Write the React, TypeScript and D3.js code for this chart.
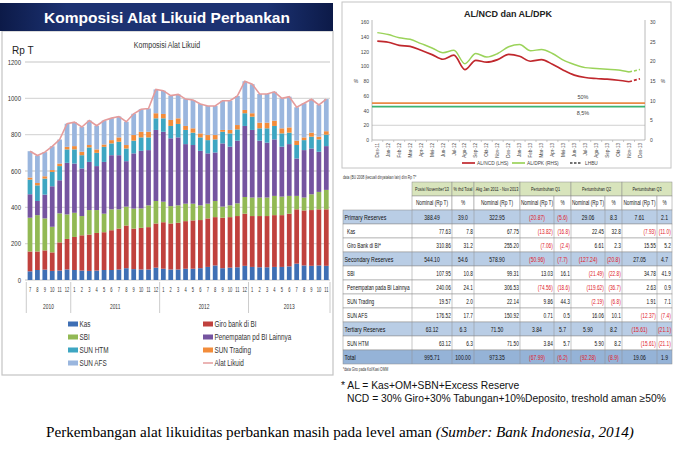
import React from 'react';
import * as d3 from 'd3';

const W = 675;
const H = 454;

const arial = "'Liberation Sans', Arial, sans-serif";
const serif = "'Liberation Serif', 'Times New Roman', serif";

// ---- left chart: Komposisi Alat Likuid (Rp T) ----
const monthLabels = [
  '7', '8', '9', '10', '11', '12',
  '1', '2', '3', '4', '5', '6', '7', '8', '9', '10', '11', '12',
  '1', '2', '3', '4', '5', '6', '7', '8', '9', '10', '11', '12',
  '1', '2', '3', '4', '5', '6', '7', '8', '9', '10', '11',
];
const years = ['2010', '2011', '2012', '2013'];
const yearCounts = [6, 12, 12, 11];

const kas = [48, 55, 57, 50, 52, 58, 55, 52, 50, 52, 55, 55, 58, 65, 60, 58, 58, 68, 62, 58, 58, 62, 62, 65, 72, 80, 65, 68, 70, 78, 72, 70, 70, 72, 72, 75, 90, 80, 78, 80, 78];
const giroBI = [109, 102, 106, 102, 155, 168, 182, 194, 200, 207, 208, 219, 225, 235, 223, 229, 233, 243, 256, 253, 257, 262, 266, 265, 267, 266, 278, 278, 282, 287, 280, 282, 282, 285, 285, 290, 299, 303, 307, 309, 311];
const sbi = [186, 200, 176, 141, 160, 135, 133, 106, 135, 126, 102, 115, 106, 104, 110, 107, 120, 124, 113, 96, 96, 96, 92, 81, 81, 89, 61, 65, 70, 92, 102, 102, 102, 106, 102, 98, 74, 71, 87, 96, 107];
const penempatan = [129, 78, 131, 223, 182, 284, 271, 262, 265, 242, 285, 298, 298, 250, 304, 317, 304, 391, 385, 373, 374, 328, 323, 300, 277, 267, 348, 323, 345, 391, 372, 313, 302, 311, 275, 285, 206, 261, 252, 221, 241];
const sunHTM = [81, 86, 88, 79, 78, 74, 78, 73, 80, 73, 83, 65, 74, 70, 70, 74, 70, 64, 74, 68, 74, 78, 68, 74, 73, 72, 64, 73, 62, 70, 73, 68, 79, 74, 73, 63, 74, 55, 65, 68, 63];
const sunTrading = [11, 13, 13, 10, 14, 14, 18, 19, 13, 19, 13, 18, 24, 19, 31, 31, 31, 28, 24, 33, 31, 22, 24, 22, 28, 24, 10, 19, 24, 18, 19, 31, 31, 29, 28, 29, 24, 15, 22, 15, 19];
const sunAFS = [145, 151, 133, 131, 132, 127, 132, 136, 135, 130, 132, 121, 115, 128, 117, 124, 128, 131, 128, 134, 132, 148, 156, 162, 160, 160, 161, 161, 160, 158, 160, 158, 158, 159, 165, 169, 184, 188, 184, 175, 177];
const leftTicks = [0, 200, 400, 600, 800, 1000, 1200];

const stackKeys = ['kas', 'giro', 'sbi', 'pen', 'htm', 'trd', 'afs'];
const stackColors = ['#3f6fb4', '#c0413d', '#92b954', '#7554a0', '#3ea6c2', '#f28c3a', '#9ab6de'];
const legendLeft = [
  { name: 'Kas', color: '#3f6fb4' },
  { name: 'SBI', color: '#92b954' },
  { name: 'SUN HTM', color: '#3ea6c2' },
  { name: 'SUN AFS', color: '#9ab6de' },
];
const legendRight = [
  { name: 'Giro bank di BI', color: '#c0413d' },
  { name: 'Penempatan pd BI Lainnya', color: '#7554a0' },
  { name: 'SUN Trading', color: '#f28c3a' },
  { name: 'Alat Likuid', color: '#e59c9c', line: true },
];

// ---- right chart: AL/NCD dan AL/DPK ----
const rightMonths = ['Des-11', 'Jan-12', 'Feb-12', 'Mar-12', 'Apr-12', 'Mei-12', 'Jun-12', 'Jul-12', 'Agu-12', 'Sep-12', 'Okt-12', 'Nov-12', 'Des-12', 'Jan-13', 'Feb-13', 'Mar-13', 'Apr-13', 'Mei-13', 'Jun-13', 'Jul-13', 'Agu-13', 'Sep-13', 'Okt-13', 'Nov-13', 'Des-13'];
const alNcd = [134, 132.5, 128.4, 127, 121.7, 115.8, 109.5, 115, 95.5, 108, 105.5, 109, 116, 113.5, 106.8, 109, 102.7, 94.6, 87.9, 84.7, 83.4, 82.5, 81, 79, 83];
const alDpk = [27.3, 26.8, 26.0, 25.6, 24.5, 23.4, 22.2, 22.8, 19.4, 22.0, 21.1, 22.0, 23.7, 24.3, 22.7, 23.0, 22.0, 20.3, 19.2, 18.4, 18.2, 18.0, 17.8, 17.3, 17.9];
const ncdThreshold = 50;
const dpkThreshold = 8.5;
const lhsTicks = [0, 20, 40, 60, 80, 100, 120, 140, 160];
const rhsTicks = [0, 5, 10, 15, 20, 25, 30];

// ---- table ----
const colEdges = [343, 412, 452, 474, 520, 554, 571, 605, 622, 657, 672];
const headTop = ["Posisi November'13", '% thd Total', 'Akg Jan 2011 - Nov 2013', 'Pertumbuhan Q1', 'Pertumbuhan Q2', 'Pertumbuhan Q3'];
const headTopSpan = [1, 1, 1, 2, 2, 2];
const headSub = ['Nominal (Rp T)', '%', 'Nominal (Rp T)', 'Nominal (Rp T)', '%', 'Nominal (Rp T)', '%', 'Nominal (Rp T)', '%'];
const rowLabels = ['Primary Reserves', 'Kas', 'Giro Bank di BI*', 'Secondary Reserves', 'SBI', 'Penempatan pada BI Lainnya', 'SUN Trading', 'SUN AFS', 'Tertiary Reserves', 'SUN HTM', 'Total'];
const rowKinds = ['group', 'item', 'item', 'group', 'item', 'item', 'item', 'item', 'group', 'item', 'total'];
const posisi = ['388.49', '77.63', '310.86', '544.10', '107.95', '240.06', '19.57', '176.52', '63.12', '63.12', '995.71'];
const pctTotal = ['39.0', '7.8', '31.2', '54.6', '10.8', '24.1', '2.0', '17.7', '6.3', '6.3', '100.00'];
const akg = ['322.95', '67.75', '255.20', '578.90', '99.31', '306.53', '22.14', '150.92', '71.50', '71.50', '973.35'];
const q1Nom = ['(20.87)', '(13.82)', '(7.06)', '(50.96)', '13.03', '(74.56)', '9.86', '0.71', '3.84', '3.84', '(67.99)'];
const q1Pct = ['(5.6)', '(16.8)', '(2.4)', '(7.7)', '16.1', '(18.6)', '44.3', '0.5', '5.7', '5.7', '(6.2)'];
const q2Nom = ['29.06', '22.45', '6.61', '(127.24)', '(21.49)', '(119.62)', '(2.19)', '16.06', '5.90', '5.90', '(92.28)'];
const q2Pct = ['8.3', '32.8', '2.3', '(20.8)', '(22.8)', '(36.7)', '(6.8)', '10.1', '8.2', '8.2', '(8.9)'];
const q3Nom = ['7.61', '(7.93)', '15.55', '27.05', '34.78', '2.63', '1.91', '(12.37)', '(15.61)', '(15.61)', '19.06'];
const q3Pct = ['2.1', '(11.0)', '5.2', '4.7', '41.9', '0.9', '7.1', '(7.4)', '(21.1)', '(21.1)', '1.9'];

// narrow text: Arial squeezed sideways, close to the Calibri/Arial Narrow look of the source
function NText(props: any) {
  const { x, y, anchor = 'start', size, fill = '#333', sx = 0.8, weight = 'normal', children } = props;
  return (
    <text transform={`translate(${x},${y}) scale(${sx},1)`} textAnchor={anchor} fontFamily={arial} fontSize={size} fill={fill} fontWeight={weight}>
      {children}
    </text>
  );
}

function LeftChart() {
  const n = monthLabels.length;
  const x = d3.scaleBand<number>().domain(d3.range(n)).range([26.3, 330]).paddingInner(0.36).paddingOuter(0.18);
  const y = d3.scaleLinear().domain([0, 1200]).range([280, 62]);
  const rows = d3.range(n).map((i) => ({
    kas: kas[i], giro: giroBI[i], sbi: sbi[i], pen: penempatan[i], htm: sunHTM[i], trd: sunTrading[i], afs: sunAFS[i],
  }));
  const series = d3.stack<any>().keys(stackKeys)(rows);
  const totals = rows.map((r) => stackKeys.reduce((s, k) => s + (r as any)[k], 0));
  const cx = (i: number) => (x(i) as number) + x.bandwidth() / 2;
  const line = d3.line<number>().x((_, i) => cx(i)).y((d) => y(d));
  const step = x.step();
  const sepX: number[] = [26.3];
  let acc = 0;
  yearCounts.forEach((c) => {
    acc += c;
    sepX.push(acc >= n ? 330 : (x(acc) as number) - (step * 0.36) / 2);
  });

  return (
    <g>
      <defs>
        <linearGradient id="banner" x1="0" x2="1" y1="0" y2="0">
          <stop offset="0" stopColor="#0c1a48" />
          <stop offset="0.2" stopColor="#1c3272" />
          <stop offset="0.8" stopColor="#1c3272" />
          <stop offset="1" stopColor="#0c1a48" />
        </linearGradient>
      </defs>
      <rect x={2} y={31} width={331} height={344} fill="#fff" stroke="#c4c4c4" strokeWidth={1.2} />
      <rect x={0} y={3} width={333} height={28} fill="url(#banner)" />
      <text x={167} y={23} textAnchor="middle" fill="#fff" fontFamily={arial} fontWeight="bold" fontSize={15.5}>
        Komposisi Alat Likuid Perbankan
      </text>
      <NText x={167} y={48} anchor="middle" size={9} fill="#333" sx={0.78}>Komposisi Alat Likuid</NText>
      <text x={12} y={54} fill="#222" fontFamily={arial} fontSize={10}>Rp T</text>

      {leftTicks.map((t) => (
        <g key={t}>
          <line x1={25} x2={330} y1={y(t)} y2={y(t)} stroke="#d9d9d9" strokeWidth={1.3} />
          <NText x={21} y={y(t) + 2.6} anchor="end" size={8} sx={0.75}>{t}</NText>
        </g>
      ))}

      {series.map((s, si) => (
        <g key={s.key} fill={stackColors[si]}>
          {s.map((d, i) => (
            <rect key={i} x={x(i)} y={y(d[1])} width={x.bandwidth()} height={Math.max(0, y(d[0]) - y(d[1]))} />
          ))}
        </g>
      ))}
      <path d={line(totals) || ''} fill="none" stroke="#e59c9c" strokeWidth={1.6} />

      {monthLabels.map((m, i) => (
        <NText key={i} x={cx(i)} y={292} anchor="middle" size={6.5} sx={0.62}>{m}</NText>
      ))}
      {sepX.map((sx, i) => (
        <line key={i} x1={sx} x2={sx} y1={282} y2={313} stroke="#bfbfbf" strokeWidth={0.8} />
      ))}
      {years.map((yr, i) => (
        <NText key={yr} x={(sepX[i] + sepX[i + 1]) / 2} y={309} anchor="middle" size={6.5} sx={0.75}>{yr}</NText>
      ))}

      {legendLeft.map((l, i) => (
        <g key={l.name}>
          <rect x={68} y={324 + i * 13 - 2.5} width={10} height={5} fill={l.color} />
          <NText x={79.5} y={324 + i * 13 + 3} size={8.5} sx={0.75}>{l.name}</NText>
        </g>
      ))}
      {legendRight.map((l, i) => (
        <g key={l.name}>
          {l.line ? (
            <line x1={203} x2={213} y1={324 + i * 13} y2={324 + i * 13} stroke={l.color} strokeWidth={1.5} />
          ) : (
            <rect x={203} y={324 + i * 13 - 2.5} width={10} height={5} fill={l.color} />
          )}
          <NText x={214.5} y={324 + i * 13 + 3} size={8.5} sx={0.75}>{l.name}</NText>
        </g>
      ))}
    </g>
  );
}

function RightChart() {
  const x = d3.scalePoint<string>().domain(rightMonths).range([377.3, 640]);
  const yL = d3.scaleLinear().domain([0, 160]).range([140, 22]);
  const yR = d3.scaleLinear().domain([0, 30]).range([140, 22]);
  const last = rightMonths.length - 1;
  const lineL = d3.line<number>().x((_, i) => x(rightMonths[i]) as number).y((d) => yL(d)).curve(d3.curveMonotoneX);
  const lineR = d3.line<number>().x((_, i) => x(rightMonths[i]) as number).y((d) => yR(d)).curve(d3.curveMonotoneX);
  const lineLd = d3.line<number>().x((_, i) => x(rightMonths[last - 1 + i]) as number).y((d) => yL(d));
  const lineRd = d3.line<number>().x((_, i) => x(rightMonths[last - 1 + i]) as number).y((d) => yR(d));
  const half = x.step() / 2;

  return (
    <g>
      <rect x={342} y={2} width={329} height={166} fill="#fff" stroke="#c4c4c4" strokeWidth={1} />
      <text x={508} y={17} textAnchor="middle" fill="#222" fontFamily={arial} fontWeight="bold" fontSize={9}>
        AL/NCD dan AL/DPK
      </text>
      <line x1={372} x2={645} y1={yL(20)} y2={yL(20)} stroke="#d0d0d0" strokeWidth={1} />
      <line x1={372} x2={372} y1={20} y2={140} stroke="#a8a8a8" strokeWidth={0.8} />
      <line x1={645} x2={645} y1={20} y2={140} stroke="#a8a8a8" strokeWidth={0.8} />
      <line x1={372} x2={645} y1={140} y2={140} stroke="#a8a8a8" strokeWidth={0.8} />
      {rightMonths.map((m) => (
        <line key={m} x1={(x(m) as number) - half} x2={(x(m) as number) - half} y1={140} y2={142} stroke="#a8a8a8" strokeWidth={0.6} />
      ))}
      {lhsTicks.map((t) => (
        <text key={t} x={369} y={yL(t) + 2} textAnchor="end" fill="#444" fontFamily={arial} fontSize={5}>{t}</text>
      ))}
      {rhsTicks.map((t) => (
        <text key={t} x={650} y={yR(t) + 2} fill="#444" fontFamily={arial} fontSize={5}>{t}</text>
      ))}
      <text x={356} y={83} textAnchor="middle" fill="#444" fontFamily={arial} fontSize={5}>%</text>
      <text x={663} y={83} textAnchor="middle" fill="#444" fontFamily={arial} fontSize={5}>%</text>

      <line x1={372} x2={645} y1={yL(ncdThreshold)} y2={yL(ncdThreshold)} stroke="#e98a46" strokeWidth={1.8} />
      <line x1={372} x2={645} y1={yR(dpkThreshold)} y2={yR(dpkThreshold)} stroke="#3cb371" strokeWidth={1.8} />
      <text x={583} y={99} textAnchor="middle" fill="#444" fontFamily={arial} fontSize={5.5}>50%</text>
      <text x={583} y={115} textAnchor="middle" fill="#444" fontFamily={arial} fontSize={5.5}>8,5%</text>

      <path d={lineR(alDpk.slice(0, last)) || ''} fill="none" stroke="#9bd35a" strokeWidth={1.5} />
      <path d={lineRd(alDpk.slice(last - 1)) || ''} fill="none" stroke="#9bd35a" strokeWidth={1.5} strokeDasharray="3 2" />
      <path d={lineL(alNcd.slice(0, last)) || ''} fill="none" stroke="#c0282d" strokeWidth={1.7} />
      <path d={lineLd(alNcd.slice(last - 1)) || ''} fill="none" stroke="#c0282d" strokeWidth={1.7} strokeDasharray="3 2" />

      {rightMonths.map((m) => (
        <text key={m} transform={`translate(${(x(m) as number) + 1.6}, 143) rotate(-90)`} textAnchor="end" fill="#444" fontFamily={arial} fontSize={4.6}>
          {m}
        </text>
      ))}

      <line x1={462} x2={475} y1={163} y2={163} stroke="#c0282d" strokeWidth={1.7} />
      <text x={477} y={164.8} fill="#444" fontFamily={arial} fontSize={4.8}>AL/NCD (LHS)</text>
      <line x1={512} x2={525} y1={163} y2={163} stroke="#9bd35a" strokeWidth={1.7} />
      <text x={527} y={164.8} fill="#444" fontFamily={arial} fontSize={4.8}>AL/DPK (RHS)</text>
      <line x1={570} x2={582} y1={163} y2={163} stroke="#444" strokeWidth={1.5} strokeDasharray="2.5 1.5" />
      <text x={585} y={164.8} fill="#444" fontFamily={arial} fontSize={4.8}>LHBU</text>
    </g>
  );
}

function Table() {
  const top = 182;
  const rh = 14;
  const cols = [posisi, pctTotal, akg, q1Nom, q1Pct, q2Nom, q2Pct, q3Nom, q3Pct];
  const fillFor: Record<string, string> = { group: '#b9cde5', item: '#ffffff', total: '#95b3d7' };
  const tops: { x0: number; x1: number; label: string }[] = [];
  let c = 1;
  headTop.forEach((h, i) => {
    tops.push({ x0: colEdges[c], x1: colEdges[c + headTopSpan[i]], label: h });
    c += headTopSpan[i];
  });
  const fs = 6.6;
  const sq = 0.72;
  return (
    <g>
      <NText x={343} y={179} size={4.6} sx={0.72} fill="#333">data (BU 2008 (kecuali dinyatakan lain) dlm Rp T*</NText>
      {tops.map((t) => (
        <g key={t.label}>
          <rect x={t.x0} y={top} width={t.x1 - t.x0} height={rh} fill="#d8e4bc" stroke="#8c8c8c" strokeWidth={0.5} />
          <NText x={(t.x0 + t.x1) / 2} y={top + rh / 2 + 2} anchor="middle" size={5.3} sx={0.72} fill="#222">{t.label}</NText>
        </g>
      ))}
      {headSub.map((h, i) => (
        <g key={i}>
          <rect x={colEdges[i + 1]} y={top + rh} width={colEdges[i + 2] - colEdges[i + 1]} height={rh} fill="#fff" stroke="#8c8c8c" strokeWidth={0.5} />
          <NText x={(colEdges[i + 1] + colEdges[i + 2]) / 2} y={top + rh * 1.5 + 2.3} anchor="middle" size={fs} sx={sq} fill="#222">{h}</NText>
        </g>
      ))}
      {rowLabels.map((label, r) => {
        const ry = top + rh * (r + 2);
        const kind = rowKinds[r];
        const main = kind !== 'item';
        return (
          <g key={label}>
            <rect x={colEdges[0]} y={ry} width={colEdges[10] - colEdges[0]} height={rh} fill={fillFor[kind]} stroke="#8c8c8c" strokeWidth={0.5} />
            {colEdges.slice(1, 10).map((ex, i) => (
              <line key={i} x1={ex} x2={ex} y1={ry} y2={ry + rh} stroke="#8c8c8c" strokeWidth={0.5} />
            ))}
            <NText x={main ? 344.5 : 347} y={ry + rh / 2 + 2.5} size={main ? 7.3 : fs} sx={sq} fill="#111">{label}</NText>
            {cols.map((col, ci) => {
              const v = col[r];
              const neg = v.startsWith('(');
              const x0 = colEdges[ci + 1];
              const x1 = colEdges[ci + 2];
              return (
                <NText
                  key={ci}
                  x={main ? (x0 + x1) / 2 : x1 - 1.2}
                  y={ry + rh / 2 + 2.5}
                  anchor={main ? 'middle' : 'end'}
                  size={main ? 7 : fs}
                  sx={sq}
                  fill={neg ? '#e0202a' : '#111'}
                >
                  {v}
                </NText>
              );
            })}
          </g>
        );
      })}
      <NText x={343} y={top + rh * 13 + 7} size={4.6} sx={0.72} fill="#333">*data Giro pada Kol/Kasi OMM</NText>
    </g>
  );
}

export default function App() {
  return (
    <div style={{ position: 'absolute', left: 0, top: 0 }}>
      <svg width={W} height={H} style={{ display: 'block', background: '#fff' }}>
        <LeftChart />
        <RightChart />
        <Table />
        <text x={341} y={389} fill="#111" fontFamily={arial} fontSize={10.3}>* AL = Kas+OM+SBN+Excess Reserve</text>
        <text x={347} y={402} fill="#111" fontFamily={arial} fontSize={10.3}>
          NCD = 30% Giro+30% Tabungan+10%Deposito, treshold aman ≥50%
        </text>
        <text x={46} y={437} fill="#000" fontFamily={serif} fontSize={15.2}>
          Perkembangan alat likuiditas perbankan masih pada level aman{' '}
          <tspan fontStyle="italic">(Sumber: Bank Indonesia, 2014)</tspan>
        </text>
      </svg>
    </div>
  );
}
